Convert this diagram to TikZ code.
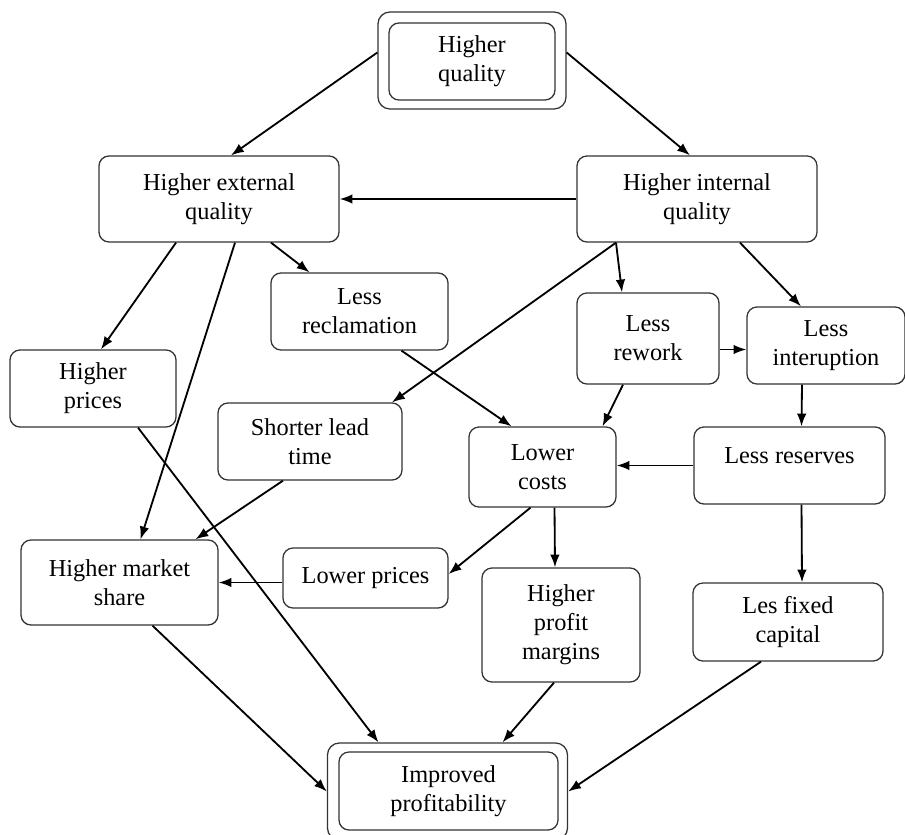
\documentclass[tikz,border=0pt]{standalone}
\usepackage{fontspec}
\setmainfont{Liberation Serif}
\usepackage{xcolor}
\definecolor{boxline}{HTML}{333333}
\usepackage{tikz}
\usetikzlibrary{arrows.meta, positioning, calc}

\begin{document}
\begin{tikzpicture}[
  x=0.025cm, y=-0.025cm,
  box/.style={rectangle, rounded corners=2.5mm, draw=boxline, line width=0.9pt,
              fill=white, align=center, inner sep=0pt,
              font=\fontsize{17.3}{20.5}\selectfont},
  frame/.style={rectangle, rounded corners=3mm, draw=boxline, line width=0.9pt},
  arrow/.style={-{Latex[length=3.2mm, width=2.4mm]}, draw=black, line width=1.3pt},
]
\useasboundingbox (0,0) rectangle (905,834);

% double framed ends
\node[frame, minimum width=4.7cm, minimum height=2.425cm] (hq) at (472,60.5) {};
\node[box, minimum width=4.15cm, minimum height=1.925cm]  (hqin) at (472,61.5) {Higher\\quality};

\node[frame, minimum width=6cm, minimum height=2.425cm]    (ipr) at (447.5,791.5) {};
\node[box, minimum width=5.475cm, minimum height=1.95cm]   (iprin) at (448.5,791) {Improved\\profitability};

% first level
\node[box, minimum width=6cm, minimum height=2.15cm] (heq) at (219,199) {Higher external\\quality};
\node[box, minimum width=6cm, minimum height=2.15cm] (hiq) at (697,199) {Higher internal\\quality};

% middle
\node[box, minimum width=4.425cm, minimum height=1.925cm] (lrec) at (359.5,311.5) {Less\\reclamation};
\node[box, minimum width=3.55cm, minimum height=2.275cm]  (lrew) at (648,338.5)   {Less\\rework};
\node[box, minimum width=3.95cm, minimum height=1.925cm]  (lint) at (826,345.5)   {Less\\interuption};
\node[box, minimum width=4.15cm, minimum height=1.925cm]  (hpr)  at (93,388.5)    {Higher\\prices};
\node[box, minimum width=4.6cm, minimum height=1.925cm]   (slt)  at (310,441.5)   {Shorter lead\\time};
\node[box, minimum width=3.675cm, minimum height=2cm]     (lco)  at (542.5,467)   {Lower\\costs};
\node[box, minimum width=4.775cm, minimum height=1.925cm] (lres) at (789.5,465.5) {Less reserves\\[-6pt]\mbox{}};

% lower
\node[box, minimum width=4.925cm, minimum height=2.125cm] (hms) at (119.5,582.5) {Higher market\\share};
\node[box, minimum width=4.125cm, minimum height=1.5cm]   (lpr) at (365.5,578)   {Lower prices};
\node[box, minimum width=3.95cm, minimum height=2.85cm]   (hpm) at (561,625)     {Higher\\profit\\margins};
\node[box, minimum width=4.75cm, minimum height=1.95cm]   (lfc) at (788,622)     {Les fixed\\capital};

\draw[arrow] ($(hq.west)+(0,-8)$)  -- ($(heq.north)+(12,0)$);
\draw[arrow] ($(hq.east)+(0,-8)$)  -- ($(hiq.north)+(-7,0)$);
\draw[arrow] (hiq.west) -- (heq.east);

\draw[arrow] ($(heq.south)+(-43,0)$) -- ($(hpr.north)+(8,0)$);
\draw[arrow] ($(heq.south)+(16,0)$)  -- ($(hms.north)+(21,0)$);
\draw[arrow] ($(heq.south)+(52,0)$)  -- ($(lrec.north)+(-50,0)$);

\draw[arrow] ($(hiq.south)+(-81,0)$) -- ($(slt.north)+(82,0)$);
\draw[arrow] ($(hiq.south)+(-81,0)$) -- ($(lrew.north)+(-26,0)$);
\draw[arrow] ($(hiq.south)+(43,0)$)  -- ($(lint.north)+(-25,0)$);

\draw[arrow] ($(lrew.east)+(0,11)$)  -- ($(lint.west)+(0,4)$);
\draw[arrow] ($(lrew.south)+(-25,0)$) -- ($(lco.north)+(60,0)$);
\draw[arrow] ($(lrec.south)+(42,0)$) -- ($(lco.north)+(-31,0)$);
\draw[arrow] ($(lint.south)+(-24,0)$) -- ($(lres.north)+(12,0)$);
\draw[arrow] (lres.west) -- (lres.west -| lco.east);
\draw[arrow] ($(lres.south)+(12,0)$) -- ($(lfc.north)+(14,0)$);

\draw[arrow] ($(lco.south)+(-12,0)$) -- ($(lpr.east)+(0,-4)$);
\draw[arrow] ($(lco.south)+(12,0)$)  -- ($(hpm.north)+(-6,0)$);
\draw[arrow] (lpr.west |- hms.east) -- (hms.east);
\draw[arrow] ($(slt.south)+(-27,0)$) -- ($(hms.north)+(76,0)$);

\draw[arrow] ($(hpr.south)+(45,0)$)  -- ($(ipr.north)+(-69,0)$);
\draw[arrow] ($(hms.south)+(33,0)$)  -- (ipr.west);
\draw[arrow] ($(hpm.south)+(-7,0)$)  -- ($(ipr.north)+(55,0)$);
\draw[arrow] ($(lfc.south)+(-27,0)$) -- (ipr.east);

\end{tikzpicture}
\end{document}
